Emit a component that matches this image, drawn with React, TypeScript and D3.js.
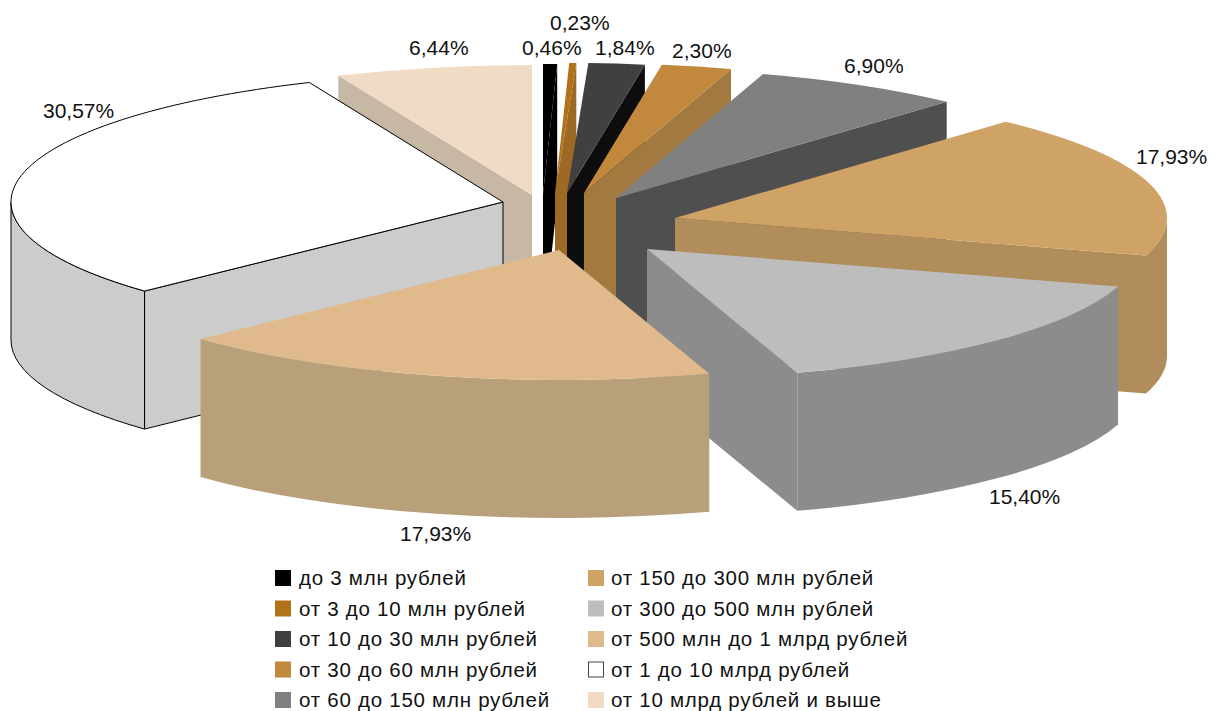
import React from 'react';
import * as d3 from 'd3';

const categories = [
  'до 3 млн рублей',
  'от 3 до 10 млн рублей',
  'от 10 до 30 млн рублей',
  'от 30 до 60 млн рублей',
  'от 60 до 150 млн рублей',
  'от 150 до 300 млн рублей',
  'от 300 до 500 млн рублей',
  'от 500 млн до 1 млрд рублей',
  'от 1 до 10 млрд рублей',
  'от 10 млрд рублей и выше',
];
const values = [0.46, 0.23, 1.84, 2.3, 6.9, 17.93, 15.4, 17.93, 30.57, 6.44];

const topColors = ['#000000', '#b27318', '#404040', '#c2883e', '#808080', '#cfa266', '#bdbdbd', '#e0b98d', '#ffffff', '#f0dcc4'];
const sideColors = ['#000000', '#9c6a25', '#0d0d0d', '#a27a3f', '#4f4f4f', '#b08d5a', '#8c8c8c', '#b8a07b', '#cccccc', '#c7b8a5'];

// where each pulled-out slice has its tip
const tipX = [543, 555, 567, 584, 616, 675, 647, 559, 503, 532];
const tipY = [194, 193, 193, 193, 198, 218, 249, 250, 202, 195];

// label position (left end, baseline)
const labelX = [522, 550, 595, 672, 844, 1136, 989, 400, 43, 409];
const labelY = [55, 30, 55, 58, 73, 164, 504, 541, 118, 55];

// painter's order, back to front
const drawOrder = [9, 0, 1, 2, 3, 4, 5, 8, 6, 7];

const RX = 492;
const RY = 130;
const DEPTH = 138;
const FONT = '"Liberation Sans", Arial, sans-serif';

const xUnit = d3.scaleLinear().domain([-1, 1]).range([-RX, RX]);
const yUnit = d3.scaleLinear().domain([-1, 1]).range([-RY, RY]);

const slices = d3.pie<number>().sort(null).value(d => d)(values);

const rim = (i: number, angle: number) => [
  tipX[i] + xUnit(Math.sin(angle)),
  tipY[i] + yUnit(-Math.cos(angle)),
];

const topPath = (i: number) => {
  const s = slices[i];
  const [x0, y0] = rim(i, s.startAngle);
  const [x1, y1] = rim(i, s.endAngle);
  return `M${tipX[i]},${tipY[i]}L${x0},${y0}A${RX},${RY} 0 0 1 ${x1},${y1}Z`;
};

// side of the slice along one cut edge
const cutPath = (i: number, angle: number) => {
  const [x, y] = rim(i, angle);
  return `M${tipX[i]},${tipY[i]}L${x},${y}L${x},${y + DEPTH}L${tipX[i]},${tipY[i] + DEPTH}Z`;
};

// outer wall, only the front half of the ellipse shows
const wallPath = (i: number) => {
  const s = slices[i];
  const a0 = Math.max(s.startAngle, Math.PI / 2);
  const a1 = Math.min(s.endAngle, (3 * Math.PI) / 2);
  if (a1 <= a0) return null;
  const [x0, y0] = rim(i, a0);
  const [x1, y1] = rim(i, a1);
  return `M${x0},${y0}A${RX},${RY} 0 0 1 ${x1},${y1}L${x1},${y1 + DEPTH}A${RX},${RY} 0 0 0 ${x0},${y0 + DEPTH}Z`;
};

const legendRows = d3.scalePoint<number>().domain(d3.range(5)).range([578, 700]);
const legendCols = [275, 588];
const legendTextCols = [299, 611];

const App: React.FC = () => {
  return (
    <svg width={1217} height={711} style={{ position: 'absolute', left: 0, top: 0 }}>
      <rect width={1217} height={711} fill="#fff" />
      {drawOrder.map(i => {
        const s = slices[i];
        const outline = values[i] === 30.57 ? { stroke: '#000', strokeWidth: 1, strokeLinejoin: 'round' as const } : {};
        const wall = wallPath(i);
        return (
          <g key={i}>
            {Math.sin(s.startAngle) < 0 && <path d={cutPath(i, s.startAngle)} fill={sideColors[i]} {...outline} />}
            {Math.sin(s.endAngle) > 0 && <path d={cutPath(i, s.endAngle)} fill={sideColors[i]} {...outline} />}
            {wall && <path d={wall} fill={sideColors[i]} {...outline} />}
            <path d={topPath(i)} fill={topColors[i]} {...outline} />
          </g>
        );
      })}
      {values.map((v, i) => (
        <text key={i} x={labelX[i]} y={labelY[i]} fontFamily={FONT} fontSize={21} fill="#111">
          {v.toFixed(2).replace('.', ',')}%
        </text>
      ))}
      {categories.map((c, i) => {
        const col = Math.floor(i / 5);
        const x = legendCols[col];
        const y = legendRows(i % 5) as number;
        const isWhite = topColors[i] === '#ffffff';
        return (
          <g key={c}>
            <rect
              x={isWhite ? x + 0.5 : x}
              y={isWhite ? y - 7.5 : y - 8}
              width={isWhite ? 15 : 16}
              height={isWhite ? 15 : 16}
              fill={topColors[i]}
              stroke={isWhite ? '#444' : 'none'}
            />
            <text x={legendTextCols[col]} y={y + 7} fontFamily={FONT} fontSize={20.5} letterSpacing={0.74} fill="#111">
              {c}
            </text>
          </g>
        );
      })}
    </svg>
  );
};

export default App;
